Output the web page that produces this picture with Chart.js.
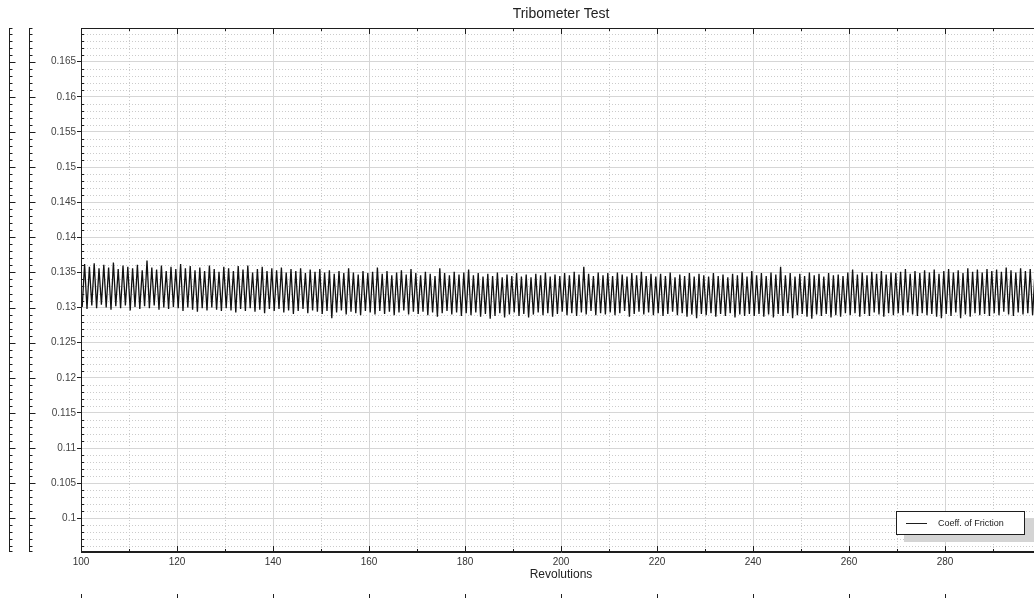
<!DOCTYPE html>
<html>
<head>
<meta charset="utf-8">
<script src="https://cdn.jsdelivr.net/npm/chart.js@4/dist/chart.umd.min.js"></script>
<style>
  html, body { margin:0; padding:0; overflow:hidden; background:#fff; width:1034px; height:598px; }
  #wrap { position:absolute; left:0; top:0; width:1050px; height:598px; }
  canvas { display:block; }
</style>
</head>
<body>
<div id="wrap"><canvas id="c" width="1050" height="598" style="width:1050px;height:598px"></canvas></div>
<script>
// ---------------- data ----------------
const TITLE = 'Tribometer Test';
const X_TITLE = 'Revolutions';
const SERIES_NAME = 'Coeff. of Friction';
const X_MIN = 100, X_MAX = 300;
const Y_MIN = 0.0952, Y_MAX = 0.1698;
const X_TICKS = [100, 120, 140, 160, 180, 200, 220, 240, 260, 280];
const X_MINOR_TICKS = [110, 130, 150, 170, 190, 210, 230, 250, 270, 290];
const Y_TICKS = [0.1, 0.105, 0.11, 0.115, 0.12, 0.125, 0.13, 0.135, 0.14, 0.145, 0.15, 0.155, 0.16, 0.165];
const Y_TICK_LABELS = ['0.1','0.105','0.11','0.115','0.12','0.125','0.13','0.135','0.14','0.145','0.15','0.155','0.16','0.165'];

const START_VALUE = 0.1320;
// local minimum of friction within each revolution (rev 100 .. 299)
const TROUGHS = [
  0.1301,0.1298,0.1303,0.1299,0.1304,0.1300,0.1297,0.1302,0.1299,0.1303,
  0.1296,0.1301,0.1298,0.1302,0.1299,0.1303,0.1297,0.1300,0.1298,0.1301,
  0.1299,0.1295,0.1300,0.1297,0.1294,0.1299,0.1296,0.1300,0.1297,0.1295,
  0.1299,0.1296,0.1293,0.1298,0.1295,0.1299,0.1294,0.1297,0.1292,0.1298,
  0.1295,0.1298,0.1293,0.1296,0.1291,0.1295,0.1298,0.1292,0.1296,0.1294,
  0.1291,0.1295,0.1285,0.1293,0.1296,0.1290,0.1294,0.1292,0.1289,0.1295,
  0.1293,0.1290,0.1295,0.1291,0.1294,0.1289,0.1293,0.1296,0.1290,0.1294,
  0.1291,0.1294,0.1289,0.1293,0.1287,0.1292,0.1295,0.1290,0.1293,0.1288,
  0.1292,0.1289,0.1293,0.1287,0.1291,0.1284,0.1288,0.1292,0.1286,0.1290,
  0.1293,0.1288,0.1291,0.1286,0.1290,0.1293,0.1289,0.1292,0.1287,0.1291,
  0.1294,0.1289,0.1292,0.1288,0.1293,0.1290,0.1295,0.1289,0.1292,0.1290,
  0.1293,0.1289,0.1292,0.1295,0.1287,0.1291,0.1294,0.1290,0.1293,0.1289,
  0.1292,0.1288,0.1291,0.1294,0.1289,0.1292,0.1287,0.1290,0.1285,0.1291,
  0.1289,0.1292,0.1287,0.1291,0.1288,0.1292,0.1286,0.1290,0.1288,0.1291,
  0.1288,0.1291,0.1287,0.1290,0.1286,0.1291,0.1288,0.1292,0.1285,0.1289,
  0.1291,0.1287,0.1284,0.1290,0.1288,0.1291,0.1286,0.1289,0.1287,0.1292,
  0.1289,0.1292,0.1287,0.1291,0.1288,0.1293,0.1290,0.1287,0.1292,0.1289,
  0.1292,0.1289,0.1293,0.1290,0.1288,0.1292,0.1289,0.1291,0.1287,0.1285,
  0.1291,0.1288,0.1293,0.1285,0.1290,0.1287,0.1292,0.1289,0.1291,0.1288,
  0.1292,0.1289,0.1294,0.1290,0.1288,0.1293,0.1290,0.1292,0.1289,0.1293
];
// local maximum of friction within each revolution (rev 100 .. 299)
const PEAKS = [
  0.1362,0.1358,0.1363,0.1356,0.1361,0.1357,0.1364,0.1355,0.1360,0.1358,
  0.1356,0.1361,0.1353,0.1367,0.1357,0.1354,0.1360,0.1352,0.1358,0.1355,
  0.1362,0.1356,0.1359,0.1353,0.1357,0.1352,0.1360,0.1355,0.1351,0.1358,
  0.1356,0.1352,0.1359,0.1354,0.1360,0.1350,0.1355,0.1358,0.1352,0.1356,
  0.1353,0.1357,0.1350,0.1355,0.1352,0.1356,0.1349,0.1354,0.1351,0.1355,
  0.1350,0.1353,0.1348,0.1352,0.1349,0.1356,0.1350,0.1347,0.1352,0.1349,
  0.1351,0.1357,0.1348,0.1352,0.1346,0.1350,0.1353,0.1347,0.1355,0.1349,
  0.1346,0.1351,0.1348,0.1345,0.1356,0.1349,0.1346,0.1351,0.1347,0.1350,
  0.1354,0.1346,0.1349,0.1344,0.1348,0.1345,0.1350,0.1343,0.1347,0.1345,
  0.1349,0.1344,0.1347,0.1343,0.1348,0.1346,0.1350,0.1344,0.1347,0.1345,
  0.1349,0.1346,0.1351,0.1347,0.1358,0.1348,0.1345,0.1350,0.1346,0.1349,
  0.1345,0.1350,0.1347,0.1344,0.1349,0.1346,0.1351,0.1345,0.1348,0.1344,
  0.1348,0.1345,0.1350,0.1343,0.1347,0.1345,0.1349,0.1344,0.1348,0.1346,
  0.1344,0.1349,0.1345,0.1347,0.1343,0.1348,0.1346,0.1350,0.1344,0.1352,
  0.1346,0.1349,0.1345,0.1350,0.1347,0.1358,0.1346,0.1349,0.1344,0.1348,
  0.1345,0.1350,0.1346,0.1348,0.1344,0.1349,0.1346,0.1347,0.1345,0.1350,
  0.1354,0.1347,0.1350,0.1346,0.1351,0.1348,0.1352,0.1347,0.1350,0.1349,
  0.1351,0.1355,0.1348,0.1352,0.1349,0.1353,0.1350,0.1354,0.1348,0.1352,
  0.1355,0.1350,0.1353,0.1349,0.1356,0.1351,0.1354,0.1350,0.1355,0.1352,
  0.1354,0.1351,0.1357,0.1353,0.1350,0.1356,0.1352,0.1355,0.1351,0.1354
];

// ---------------- build points ----------------
const points = [{x: X_MIN, y: START_VALUE}];
for (let i = 0; i < PEAKS.length; i++) {
  points.push({x: X_MIN + i + 0.25, y: TROUGHS[i]});
  points.push({x: X_MIN + i + 0.75, y: PEAKS[i]});
}
const Y_MINOR_TICKS = [];
for (let k = 96; k <= 169; k++) if (k % 5 !== 0) Y_MINOR_TICKS.push(k / 1000);

const FONT = 'Liberation Sans, Arial, sans-serif';
const INK = '#1e1e1e';

function line(ctx, x1, y1, x2, y2) { ctx.moveTo(x1, y1); ctx.lineTo(x2, y2); }

const decor = {
  id: 'decor',
  beforeDatasetsDraw(chart) {
    const {ctx, chartArea: a, scales: {x, y}} = chart;
    ctx.save();
    ctx.strokeStyle = '#cbcbcb';
    ctx.lineWidth = 1;
    ctx.setLineDash([1, 2]);
    ctx.beginPath();
    for (const v of Y_MINOR_TICKS) {
      const py = Math.round(y.getPixelForValue(v)) + 0.5;
      line(ctx, a.left, py, a.right, py);
    }
    for (const v of X_MINOR_TICKS) {
      const px = Math.round(x.getPixelForValue(v)) + 0.5;
      line(ctx, px, a.top, px, a.bottom);
    }
    ctx.stroke();
    ctx.restore();
  },
  afterDatasetsDraw(chart) {
    const {ctx, chartArea: a, scales: {x, y}} = chart;
    ctx.save();
    ctx.strokeStyle = INK;
    ctx.lineWidth = 1;
    ctx.beginPath();
    const top = Math.round(a.top) + 0.5, bot = Math.round(a.bottom) - 0.5, left = Math.round(a.left) + 0.5;
    line(ctx, a.left, top, a.right, top);
    line(ctx, left, a.top, left, a.bottom);
    line(ctx, a.left, bot, a.right, bot);
    const xMaj = X_TICKS.concat([X_MAX]);
    for (const v of xMaj) {
      const px = Math.round(x.getPixelForValue(v)) + 0.5;
      line(ctx, px, a.bottom, px, a.bottom - 6);
      line(ctx, px, a.top, px, a.top + 6);
    }
    for (const v of X_MINOR_TICKS) {
      const px = Math.round(x.getPixelForValue(v)) + 0.5;
      line(ctx, px, a.bottom, px, a.bottom - 3);
      line(ctx, px, a.top, px, a.top + 3);
    }
    for (const v of Y_MINOR_TICKS) {
      const py = Math.round(y.getPixelForValue(v)) + 0.5;
      line(ctx, a.left, py, a.left + 3, py);
    }
    for (const ax of [9.5, 29.5]) {
      line(ctx, ax, a.top, ax, a.bottom);
      line(ctx, ax, top, ax + 3, top);
      line(ctx, ax, bot, ax + 3, bot);
      for (const v of Y_TICKS) {
        const py = Math.round(y.getPixelForValue(v)) + 0.5;
        line(ctx, ax, py, ax + 6, py);
      }
      for (const v of Y_MINOR_TICKS) {
        const py = Math.round(y.getPixelForValue(v)) + 0.5;
        line(ctx, ax, py, ax + 3, py);
      }
    }
    for (const v of X_TICKS) {
      const px = Math.round(x.getPixelForValue(v)) + 0.5;
      line(ctx, px, 594, px, 598);
    }
    ctx.stroke();
    ctx.restore();
  },
  afterDraw(chart) {
    const ctx = chart.ctx;
    const bx = 896, by = 511, bw = 128, bh = 23, sh = 8;
    ctx.save();
    ctx.fillStyle = '#d4d4d4';
    ctx.fillRect(bx + sh, by + sh, bw + 10, bh);
    ctx.fillStyle = '#ffffff';
    ctx.fillRect(bx, by, bw, bh);
    ctx.strokeStyle = INK;
    ctx.lineWidth = 1;
    ctx.strokeRect(bx + 0.5, by + 0.5, bw, bh);
    const cy = by + Math.round(bh / 2) + 0.5;
    ctx.beginPath();
    line(ctx, bx + 10, cy, bx + 31, cy);
    ctx.stroke();
    ctx.fillStyle = '#222';
    ctx.font = '9px ' + FONT;
    ctx.textBaseline = 'middle';
    ctx.textAlign = 'left';
    ctx.fillText(SERIES_NAME, bx + 42, cy);
    ctx.restore();
  }
};

new Chart(document.getElementById('c'), {
  type: 'line',
  data: {
    datasets: [{
      label: SERIES_NAME,
      data: points,
      borderColor: '#111111',
      borderWidth: 1.3,
      pointRadius: 0,
      tension: 0,
      fill: false
    }]
  },
  options: {
    responsive: false,
    devicePixelRatio: 1,
    animation: false,
    layout: { padding: { left: 0, right: 9, top: 0, bottom: 0 } },
    plugins: {
      legend: { display: false },
      tooltip: { enabled: false },
      title: {
        display: true,
        text: TITLE,
        fullSize: false,
        color: '#222',
        font: { family: FONT, size: 14, weight: 'normal' },
        padding: { top: 6, bottom: 5.2 }
      }
    },
    scales: {
      x: {
        type: 'linear',
        position: 'bottom',
        min: X_MIN, max: X_MAX,
        afterBuildTicks: s => { s.ticks = X_TICKS.map(v => ({value: v})); },
        afterFit: s => { s.height = 46; },
        grid: { color: '#d6d6d6', lineWidth: 1, drawTicks: false },
        border: { display: true, color: INK, width: 1 },
        ticks: {
          padding: 4, color: '#333', autoSkip: false, maxRotation: 0,
          font: { family: FONT, size: 10 },
          callback: v => String(v)
        },
        title: {
          display: true, text: X_TITLE, color: '#222',
          font: { family: FONT, size: 12 },
          padding: { top: 0, bottom: 15.8 }
        }
      },
      y: {
        type: 'linear',
        position: 'left',
        min: Y_MIN, max: Y_MAX,
        afterBuildTicks: s => { s.ticks = Y_TICKS.map(v => ({value: v})); },
        afterFit: s => { s.width = 81; },
        grid: { color: '#d6d6d6', lineWidth: 1, tickColor: INK, tickLength: 4, drawTicks: true },
        border: { display: true, color: INK, width: 1 },
        ticks: {
          padding: 1, color: '#444', autoSkip: false,
          font: { family: FONT, size: 10 },
          callback: v => Y_TICK_LABELS[Y_TICKS.indexOf(v)] ?? String(v)
        }
      }
    }
  },
  plugins: [decor]
});
</script>
</body>
</html>
